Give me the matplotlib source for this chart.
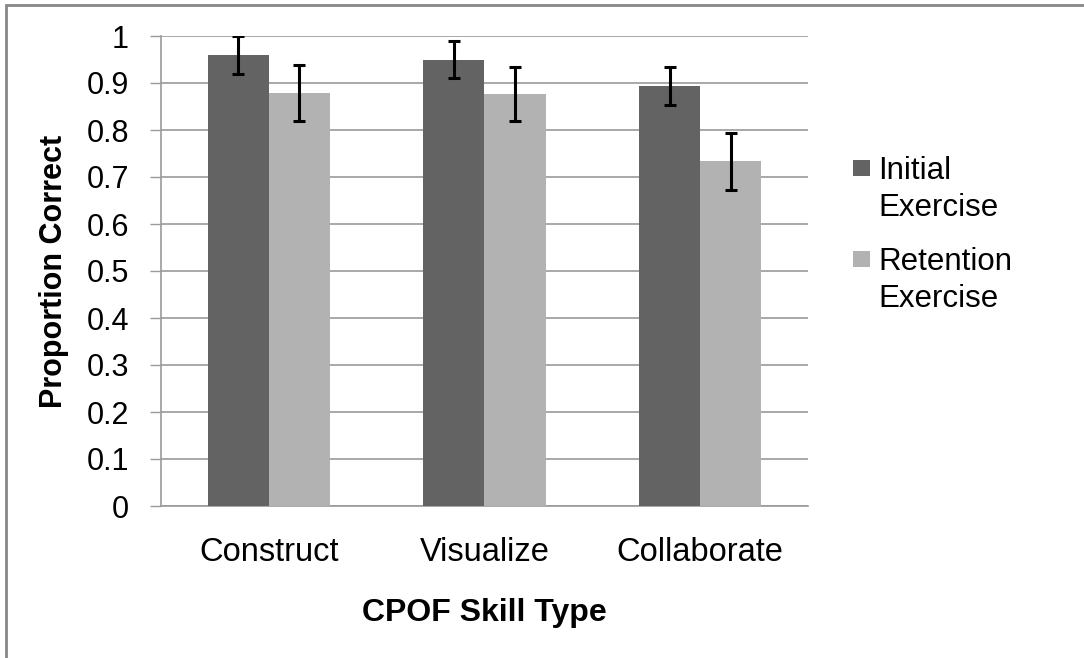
import numpy as np
import matplotlib
matplotlib.use('Agg')
import matplotlib.pyplot as plt
from matplotlib.patches import Rectangle

plt.rcParams['font.family'] = ['Liberation Sans', 'DejaVu Sans']

# data
skills = ['Construct', 'Visualize', 'Collaborate']
initial = [0.959, 0.950, 0.894]
initial_err = [0.040, 0.040, 0.040]
retention = [0.879, 0.877, 0.733]
retention_err = [0.060, 0.058, 0.060]
series_names = ['Initial\nExercise', 'Retention\nExercise']
yticks = [0, 0.1, 0.2, 0.3, 0.4, 0.5, 0.6, 0.7, 0.8, 0.9, 1]
ytick_labels = ['0', '0.1', '0.2', '0.3', '0.4', '0.5', '0.6', '0.7', '0.8', '0.9', '1']

dark = '#636363'
light = '#b2b2b2'
grid_c = '#9a9a9a'

fig = plt.figure(figsize=(10.84, 6.58), dpi=100)
ax = fig.add_axes([161 / 1084, 1 - 506 / 658, 647 / 1084, 470 / 658])

x = np.arange(len(skills))
w = 0.283
err_kw = dict(ecolor='black', elinewidth=2.2, capsize=4, capthick=2.2)
ax.bar(x - w / 2, initial, w, color=dark, yerr=initial_err, error_kw=err_kw, zorder=3)
ax.bar(x + w / 2, retention, w, color=light, yerr=retention_err, error_kw=err_kw, zorder=3)

ax.set_xlim(-0.5, 2.5)
ax.set_ylim(0, 1)
ax.set_yticks(yticks)
ax.set_yticklabels(ytick_labels)
ax.set_xticks(x)
ax.set_xticklabels(skills)
ax.tick_params(axis='y', length=8, width=1, color=grid_c, labelsize=22, pad=15)
ax.tick_params(axis='x', length=0, labelsize=23.5, pad=22)
ax.yaxis.grid(True, color=grid_c, linewidth=1.2, zorder=0)
ax.set_axisbelow(True)
for s in ['top', 'right']:
    ax.spines[s].set_visible(False)
for s in ['left', 'bottom']:
    ax.spines[s].set_color(grid_c)
    ax.spines[s].set_linewidth(1.2)

ax.set_xlabel('CPOF Skill Type', fontsize=23, fontweight='bold')
ax.xaxis.set_label_coords(0.5, -(598 - 506) / 470)
ax.set_ylabel('Proportion Correct', fontsize=22, fontweight='bold')
ax.yaxis.set_label_coords(-(161 - 69) / 647, 0.5)

# legend (Excel style: square next to first line)
for i, (name, col) in enumerate(zip(series_names, [dark, light])):
    base = 216 + i * 91   # baseline of the second line
    fig.patches.append(Rectangle((853 / 1084, 1 - (base - 48 + 8) / 658), 17 / 1084, 16 / 658,
                                 transform=fig.transFigure, facecolor=col, edgecolor='none'))
    fig.text(878 / 1084, 1 - base / 658, name, fontsize=22.5, va='baseline', ha='left',
             linespacing=1.3)

# outer frame
fig.patches.append(Rectangle((6 / 1084, -0.1), 1.2, 1.1 - 5 / 658, transform=fig.transFigure,
                             facecolor='none', edgecolor='#888888', linewidth=2))

fig.savefig('out.png', dpi=100)
